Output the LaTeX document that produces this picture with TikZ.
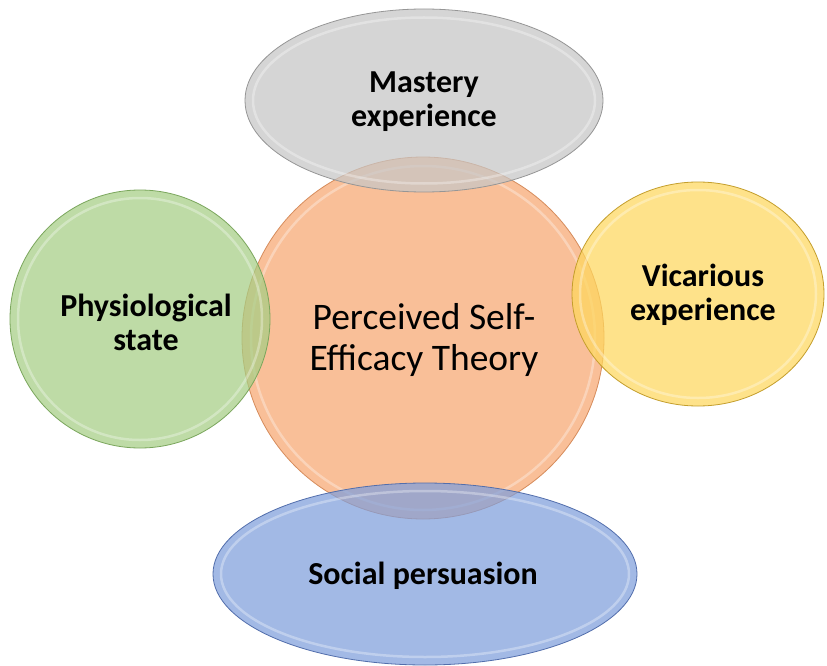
\documentclass[tikz,border=0pt]{standalone}
\usepackage{fontspec}
\setmainfont{Carlito}
\usetikzlibrary{shapes.geometric}
\definecolor{cOrange}{RGB}{249,191,152}
\definecolor{bOrange}{RGB}{214,140,92}
\definecolor{cGray}{RGB}{198,198,198}
\definecolor{bGray}{RGB}{150,150,150}
\definecolor{cGreen}{RGB}{165,206,132}
\definecolor{bGreen}{RGB}{122,166,92}
\definecolor{cYellow}{RGB}{254,215,93}
\definecolor{bYellow}{RGB}{196,158,44}
\definecolor{cBlue}{RGB}{127,159,220}
\definecolor{bBlue}{RGB}{82,110,172}
\tikzset{
  bubble/.style={ellipse, inner sep=0pt, outer sep=0pt, line width=0.8pt},
  sat/.style={bubble, fill opacity=0.72},
  ring/.style={white, line width=2.5pt, opacity=0.32},
  lbl/.style={align=center, text=black, inner sep=0pt,
    font=\fontsize{32}{34}\selectfont\bfseries},
  core/.style={align=center, text=black, inner sep=0pt,
    font=\fontsize{37.5}{41}\selectfont},
}
\begin{document}
\begin{tikzpicture}[x=1pt,y=-1pt]
\fill[white] (0,0) rectangle (827,666);
\useasboundingbox (0,0) rectangle (827,666);
% centre
\node[bubble, fill=cOrange, draw=bOrange, minimum width=362pt, minimum height=362pt] (theory) at (423,338) {};
\draw[ring] (theory.center) ellipse [x radius=172, y radius=172];
% top
\node[sat, fill=cGray, draw=bGray, minimum width=358pt, minimum height=183pt] (mastery) at (424,100.5) {};
\draw[ring] (mastery.center) ellipse [x radius=171, y radius=83];
% left
\node[sat, fill=cGreen, draw=bGreen, minimum width=260pt, minimum height=258pt] (physio) at (140,319) {};
\draw[ring] (physio.center) ellipse [x radius=122, y radius=121];
% right
\node[sat, fill=cYellow, draw=bYellow, minimum width=252pt, minimum height=224pt] (vicar) at (698,294) {};
\draw[ring] (vicar.center) ellipse [x radius=118, y radius=104];
% bottom
\node[sat, fill=cBlue, draw=bBlue, minimum width=424pt, minimum height=182pt] (social) at (425,574) {};
\draw[ring] (social.center) ellipse [x radius=204, y radius=83];
% texts
\node[core] (ttheory) at (424,340) {Perceived Self-\\Efficacy Theory};
\node[lbl] (tmastery) at (424,102) {Mastery\\experience};
\node[lbl] (tphysio) at (146,322) {Physiological\\state};
\node[lbl] (tvicar) at (703,295) {Vicarious\\experience};
\node[lbl] (tsocial) at (423,576) {Social persuasion};
\end{tikzpicture}
\end{document}
